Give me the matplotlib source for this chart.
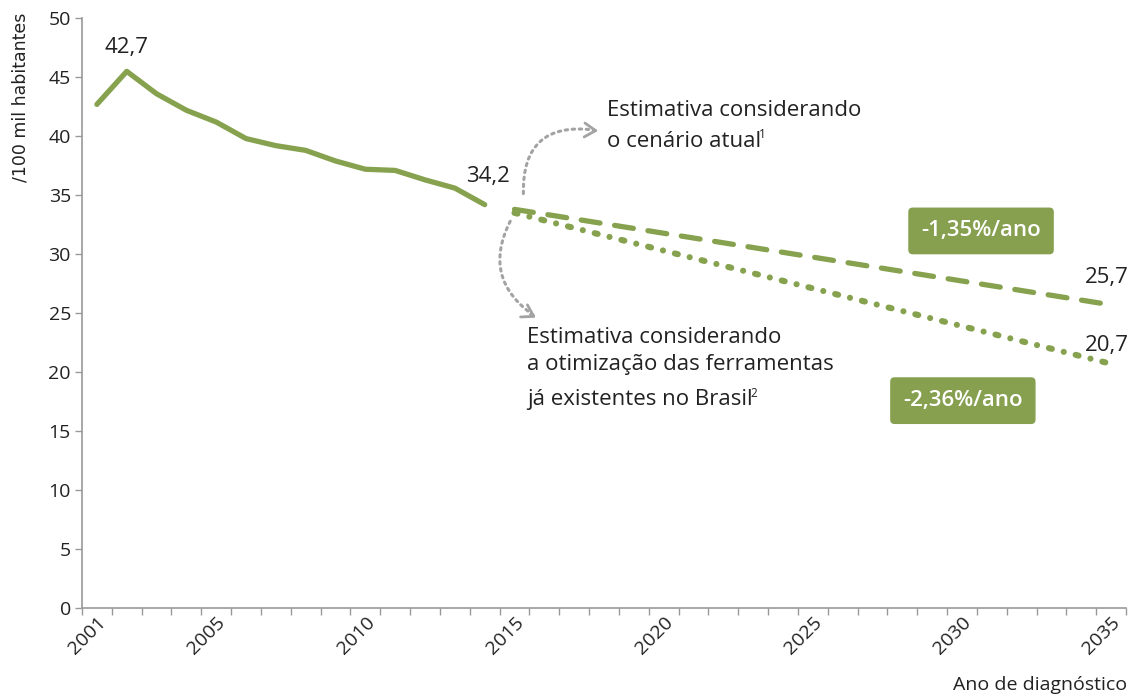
import matplotlib
matplotlib.use("Agg")
import matplotlib.pyplot as plt
from matplotlib.patches import FancyArrowPatch
from matplotlib.ticker import FixedLocator, NullFormatter

# data
hist_years = [2001, 2002, 2003, 2004, 2005, 2006, 2007, 2008, 2009, 2010,
              2011, 2012, 2013, 2014]
hist_values = [42.7, 45.5, 43.6, 42.2, 41.2, 39.8, 39.2, 38.8, 37.9, 37.2,
               37.1, 36.3, 35.6, 34.2]
proj_years = [2015, 2035]
proj_atual = [33.8, 25.7]
proj_otim = [33.5, 20.7]
year_labels = [2001, 2005, 2010, 2015, 2020, 2025, 2030, 2035]
y_ticks = [0, 5, 10, 15, 20, 25, 30, 35, 40, 45, 50]

GREEN = "#87a24f"
BOX = "#86a04f"
GREY = "#a3a3a3"
TXT = "#222222"
FONT = ["Open Sans", "DejaVu Sans"]

plt.rcParams["font.family"] = FONT

fig = plt.figure(figsize=(11.31, 6.95), dpi=100)
ax = fig.add_axes([0.0725, 0.1252, 0.9231, 0.8485])

ax.plot(hist_years, hist_values, color=GREEN, lw=3.8, solid_capstyle="round",
        solid_joinstyle="round")
ax.plot(proj_years, proj_atual, color=GREEN, lw=3.8, dashes=(3.6, 2.8),
        dash_capstyle="round")
ax.plot(proj_years, proj_otim, color=GREEN, lw=4.4, dashes=(0.5, 2.0, 0.01, 2.0),
        dash_capstyle="round")

ax.set_xlim(2000.5, 2035.5)
ax.set_ylim(0, 50)
ax.set_yticks(y_ticks)
ax.set_xticks(year_labels)
ax.set_xticklabels([str(y) for y in year_labels], rotation=45, ha="right",
                   rotation_mode="anchor")
ax.xaxis.set_minor_locator(FixedLocator([y + 0.5 for y in range(2000, 2036)]))
ax.xaxis.set_minor_formatter(NullFormatter())
ax.tick_params(axis="x", which="major", length=0, pad=4, labelsize=14,
               labelcolor=TXT)
ax.tick_params(axis="x", which="minor", length=5, width=1, color="#999999")
ax.tick_params(axis="y", length=5, width=1, color="#999999", labelsize=14,
               labelcolor=TXT, pad=3)
for s in ["top", "right"]:
    ax.spines[s].set_visible(False)
for s in ["left", "bottom"]:
    ax.spines[s].set_color("#999999")
    ax.spines[s].set_linewidth(1.2)

ax.set_ylabel("/100 mil habitantes", fontsize=12.5, family=["DejaVu Sans"],
              color=TXT)
ax.yaxis.set_label_coords(-0.050, 0.866)
fig.text(0.997, 1 - 676 / 695, "Ano de diagnóstico", ha="right", va="top",
         fontsize=14, color=TXT)

# value labels
ax.text(2002, 46.6, "42,7", ha="center", va="bottom", fontsize=16, color=TXT)
ax.text(2014.1, 35.7, "34,2", ha="center", va="bottom", fontsize=16, color=TXT)
ax.text(2034.85, 27.1, "25,7", ha="center", va="bottom", fontsize=16, color=TXT)
ax.text(2034.85, 21.4, "20,7", ha="center", va="bottom", fontsize=16, color=TXT)


# scenario descriptions (last line separate so the footnote mark can sit on it)
def note(x, y_top, lines, mark):
    step = 2.62  # line pitch in data units
    if len(lines) > 1:
        ax.text(x, y_top, "\n".join(lines[:-1]), ha="left", va="top",
                fontsize=16, color=TXT, linespacing=1.35)
    last = ax.text(x, y_top - step * (len(lines) - 1), lines[-1], ha="left",
                   va="top", fontsize=16, color=TXT)
    ax.annotate(mark, xy=(1, 0.8), xycoords=last, xytext=(-1.5, 0),
                textcoords="offset points", ha="left", va="center",
                fontsize=8.5, color=TXT)


note(2018.1, 43.1, ["Estimativa considerando", "o cenário atual"], "1")
note(2015.42, 23.8, ["Estimativa considerando", "a otimização das ferramentas",
                     "já existentes no Brasil"], "2")

# rate boxes
box_kw = dict(boxstyle="round,pad=0.58,rounding_size=0.2", fc=BOX, ec="none")
ax.text(2030.64, 31.97, "-1,35%/ano", ha="center", va="center", fontsize=16,
        color="white", fontweight="semibold", bbox=box_kw)
ax.text(2030.03, 17.58, "-2,36%/ano", ha="center", va="center", fontsize=16,
        color="white", fontweight="semibold", bbox=box_kw)

# curved dotted pointer arrows
arc1 = FancyArrowPatch((2015.3, 34.9), (2017.75, 40.5),
                       connectionstyle="arc3,rad=-0.6", arrowstyle="-",
                       color=GREY, lw=2.2, linestyle=(0, (0.8, 1.5)))
ax.add_patch(arc1)
ax.annotate("", xy=(2017.9, 40.45), xytext=(2017.55, 40.5),
            arrowprops=dict(arrowstyle="->,head_length=0.8,head_width=0.5",
                            color=GREY, lw=2))
arc2 = FancyArrowPatch((2014.9, 33.0), (2015.7, 24.7),
                       connectionstyle="arc3,rad=0.45", arrowstyle="-",
                       color=GREY, lw=2.2, linestyle=(0, (0.8, 1.5)))
ax.add_patch(arc2)
ax.annotate("", xy=(2015.8, 24.5), xytext=(2015.45, 25.0),
            arrowprops=dict(arrowstyle="->,head_length=0.8,head_width=0.5",
                            color=GREY, lw=2))

fig.savefig("out.png", dpi=100)
